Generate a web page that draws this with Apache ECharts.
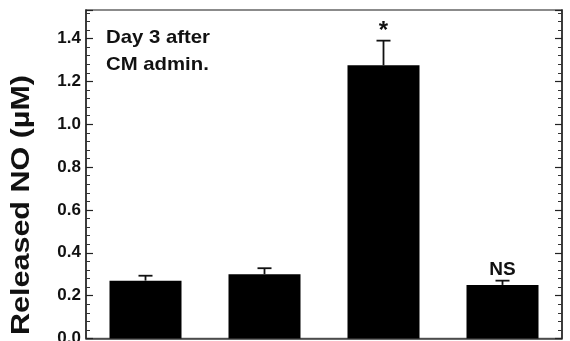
<!DOCTYPE html>
<html>
<head>
<meta charset="utf-8">
<script src="https://cdn.jsdelivr.net/npm/echarts@6/dist/echarts.min.js"></script>
<style>html,body{margin:0;padding:0;background:#fff;}#c{width:570px;height:341px;}</style>
</head>
<body>
<div id="c"></div>
<script>
const categories = ['Group 1', 'Group 2', 'Group 3', 'Group 4'];
const means = [0.27, 0.30, 1.275, 0.25];
const errorTops = [0.293, 0.328, 1.39, 0.27];
const annotations = ['', '', '*', 'NS'];
const yTicks = [0, 0.2, 0.4, 0.6, 0.8, 1.0, 1.2, 1.4];
const yTitle = 'Released NO (\u00B5M)';
const noteLines = ['Day 3 after', 'CM admin.'];

const FONT = '"Liberation Sans", Arial, sans-serif';
const chart = echarts.init(document.getElementById('c'), null, {renderer: 'canvas'});

const errData = categories.map((c, i) => [i, means[i], errorTops[i], annotations[i]]);

const yBase = {
  type: 'value', min: 0, max: 1.533, interval: 0.2,
  splitLine: {show: false},
  axisLine: {show: true, lineStyle: {color: '#222', width: 1.5}},
  axisTick: {show: true, inside: true, length: 7, lineStyle: {color: '#222', width: 1.2}},
  minorTick: {show: true, splitNumber: 5, length: 4, lineStyle: {color: '#333', width: 1}}
};

chart.setOption({
  animation: false,
  backgroundColor: '#fff',
  grid: {left: 86, right: 8, top: 10, bottom: 2.5, outerBoundsMode: 'none', containLabel: false,
    show: true, borderColor: '#666', borderWidth: 1.5},
  xAxis: {
    type: 'category', data: categories,
    axisLine: {show: true, lineStyle: {color: '#444', width: 1.5}},
    axisTick: {show: false},
    axisLabel: {show: false}
  },
  yAxis: [
    Object.assign({}, yBase, {
      position: 'left',
      axisLabel: {
        show: true, margin: 5, fontSize: 17, fontWeight: 'bold', color: '#111', fontFamily: FONT,
        showMaxLabel: false,
        formatter: v => yTicks.some(t => Math.abs(t - v) < 1e-9) ? v.toFixed(1) : ''
      }
    }),
    Object.assign({}, yBase, {position: 'right', axisLabel: {show: false}})
  ],
  graphic: [
    {
      type: 'text', x: 22, y: 205, rotation: Math.PI / 2, scaleX: 1.22,
      style: {text: yTitle, fontSize: 25, fontWeight: 'bold', fontFamily: FONT, fill: '#111',
        align: 'center', verticalAlign: 'middle'}
    },
    {
      type: 'text', x: 106, y: 24, scaleX: 1.07,
      style: {text: noteLines.join('\n'), fontSize: 19, lineHeight: 27, fontWeight: 'bold', fontFamily: FONT, fill: '#111',
        align: 'left', verticalAlign: 'top'}
    }
  ],
  series: [
    {
      type: 'bar', data: means, barWidth: 72, itemStyle: {color: '#000'}, yAxisIndex: 0
    },
    {
      type: 'custom', data: errData, yAxisIndex: 0, z: 5,
      renderItem: function (params, api) {
        const i = api.value(0);
        const pb = api.coord([i, api.value(1)]);
        const pt = api.coord([i, api.value(2)]);
        const note = annotations[params.dataIndex];
        const cap = 7;
        const children = [
          {type: 'line', shape: {x1: pb[0], y1: pb[1], x2: pt[0], y2: pt[1]}, style: {stroke: '#111', lineWidth: 1.8}},
          {type: 'line', shape: {x1: pt[0] - cap, y1: pt[1], x2: pt[0] + cap, y2: pt[1]}, style: {stroke: '#111', lineWidth: 1.8}}
        ];
        if (note) {
          const isStar = note === '*';
          children.push({
            type: 'text', x: pt[0], y: pt[1] - (isStar ? 9 : 11),
            style: {text: note, fontSize: isStar ? 24 : 19, fontWeight: 'bold', fontFamily: FONT, fill: '#111',
              align: 'center', verticalAlign: 'middle'}
          });
        }
        return {type: 'group', children: children};
      }
    }
  ]
});
</script>
</body>
</html>
